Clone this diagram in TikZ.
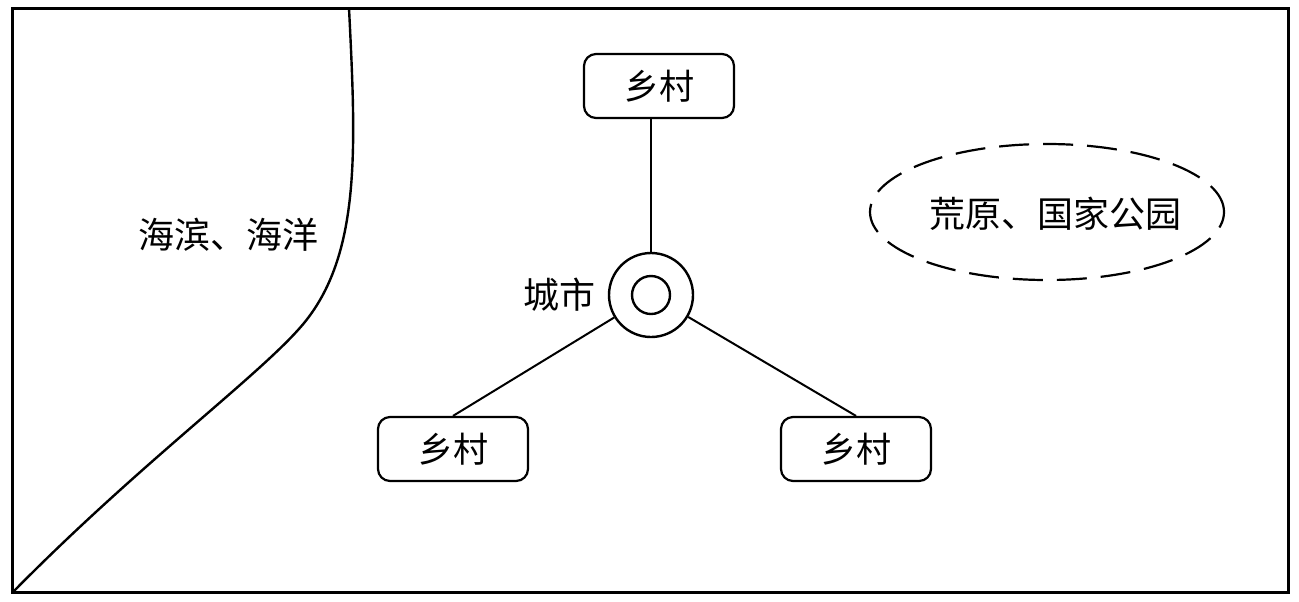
\documentclass[tikz,border=0pt]{standalone}
\usepackage{fontspec}
\setmainfont{Noto Sans CJK SC}
\usetikzlibrary{shapes.geometric}
\tikzset{
  frame/.style={line width=1.5pt},
  coast/.style={line width=1.2pt},
  village/.style={draw, line width=1.1pt, rounded corners=6pt, minimum width=75pt, minimum height=32pt, inner sep=0pt, font=\fontsize{17.5pt}{17.5pt}\selectfont},
  link/.style={line width=1pt},
  wild/.style={draw, ellipse, dashed, dash pattern=on 15pt off 7pt, line width=1.1pt, minimum width=177pt, minimum height=68pt, inner sep=0pt},
  lbl/.style={inner sep=0pt, font=\fontsize{18pt}{18pt}\selectfont}
}
\begin{document}
\begin{tikzpicture}[x=0.5pt,y=-0.5pt]
\useasboundingbox (0,0) rectangle (1299,601);
\draw[frame] (12,8) rectangle (1288,592);
\coordinate (ctop) at (349,8);
\coordinate (cmid) at (298,330);
\coordinate (cbot) at (13,592);
\draw[coast] (ctop) .. controls (356,150) and (362,260) .. (cmid) .. controls (252,381) and (135,468) .. (cbot);
\node[lbl] (sea) at (228,235) {海滨、海洋};
\node[draw, circle, line width=1.2pt, minimum size=42pt, inner sep=0pt] (city) at (651,295) {};
\node[draw, circle, line width=1.2pt, minimum size=19pt, inner sep=0pt] (cityin) at (city) {};
\node[lbl, anchor=east] (citylbl) at ([xshift=-6pt]city.west) {城市};
\node[village] (vt) at (659,86) {乡村};
\node[village] (vl) at (453,449) {乡村};
\node[village] (vr) at (856,449) {乡村};
\draw[link] (city.north) -- (city.north |- vt.south);
\draw[link] (vl.north) -- (city);
\draw[link] (vr.north) -- (city);
\node[wild] (park) at (1047,212) {};
\node[lbl] (parklbl) at (1055,214) {荒原、国家公园};
\end{tikzpicture}
\end{document}
